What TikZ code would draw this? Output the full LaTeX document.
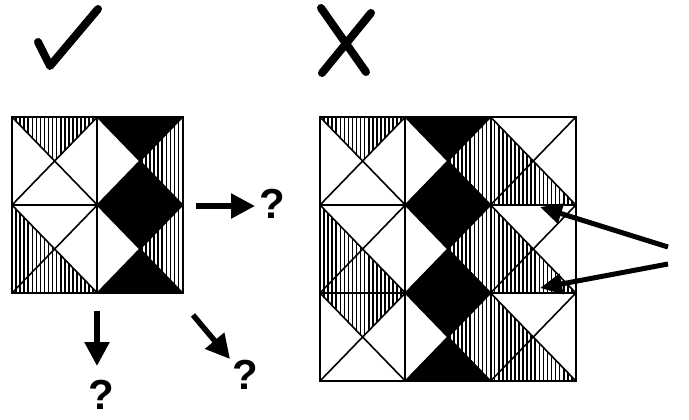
\documentclass[tikz,border=0pt]{standalone}
\usepackage{fontspec}
\setmainfont{Liberation Sans}
\usetikzlibrary{arrows.meta}
\tikzset{
  hline/.style={line width=1.6pt},
  qmark/.style={font=\bfseries\fontsize{42}{42}\selectfont,inner sep=0pt},
  bigarrow/.style={line width=5.5pt,-{Triangle[length=24pt,width=24pt]}},
  thinarrow/.style={line width=5pt,-{Triangle[length=22pt,width=20pt]}},
  stroke/.style={line width=8pt,line cap=round,line join=round},
  diag/.style={line width=1.6pt},
  border/.style={line width=2pt}
}
\def\tw{85.3}
\def\th{88}
% triangle fillers
\newcommand\Wt[3]{}
\newcommand\Bk[3]{\fill[black] #1 -- #2 -- #3 -- cycle;}
\newcommand\Ht[3]{%
  \begin{scope}
    \clip #1 -- #2 -- #3 -- cycle;
    \foreach \k in {1,...,20}
      \draw[hline] ({\tx+\k*\tw/21},\ty) -- ++(0,\th);
  \end{scope}}
% #1 x, #2 y (top-left), #3 top, #4 right, #5 bottom, #6 left
\newcommand\ptile[6]{%
  \def\tx{#1}\def\ty{#2}%
  #3{(#1,#2)}{({#1+\tw},#2)}{({#1+\tw/2},{#2+\th/2})}
  #4{({#1+\tw},#2)}{({#1+\tw},{#2+\th})}{({#1+\tw/2},{#2+\th/2})}
  #5{(#1,{#2+\th})}{({#1+\tw},{#2+\th})}{({#1+\tw/2},{#2+\th/2})}
  #6{(#1,#2)}{(#1,{#2+\th})}{({#1+\tw/2},{#2+\th/2})}
  \draw[diag] (#1,#2) -- ({#1+\tw},{#2+\th});
  \draw[diag] (#1,{#2+\th}) -- ({#1+\tw},#2);
  \draw[border] (#1,#2) rectangle ({#1+\tw},{#2+\th});
}
\newcommand\tA[2]{\ptile{#1}{#2}{\Ht}{\Wt}{\Wt}{\Wt}}
\newcommand\tB[2]{\ptile{#1}{#2}{\Bk}{\Ht}{\Bk}{\Wt}}
\newcommand\tC[2]{\ptile{#1}{#2}{\Wt}{\Wt}{\Ht}{\Ht}}
\begin{document}
\begin{tikzpicture}[x=1pt,y=-1pt]
\useasboundingbox[fill=white] (0,0) rectangle (689,420);
% check mark and cross
\draw[stroke] (38,42) -- (50,66) -- (98,9);
\draw[stroke] (321,8) -- (366,72);
\draw[stroke] (371,13) -- (322,73);
% left grid 2x2
\tA{12}{117}
\tB{97.3}{117}
\tC{12}{205}
\tB{97.3}{205}
% right grid 3x3
\tA{320}{117}
\tB{405.3}{117}
\tC{490.6}{117}
\tC{320}{205}
\tB{405.3}{205}
\tC{490.6}{205}
\tA{320}{293}
\tB{405.3}{293}
\tC{490.6}{293}
% question marks
\node[qmark] (qr) at (272,204) {?};
\node[qmark] (qd) at (101,395) {?};
\node[qmark] (qx) at (245,375) {?};
% arrows of the left picture
\coordinate (rs) at (196,206);
\coordinate (re) at (255,206);
\draw[bigarrow] (rs) -- (re);
\coordinate (ds) at (97,311);
\coordinate (de) at (97,366);
\draw[bigarrow] (ds) -- (de);
\coordinate (xs) at (193,315);
\coordinate (xe) at (230,359);
\draw[bigarrow] (xs) -- (xe);
% arrows pointing at the mismatches
\coordinate (p1) at (668,247);
\coordinate (t1) at (540,207);
\coordinate (p2) at (668,264);
\coordinate (t2) at (540,288);
\draw[thinarrow] (p1) -- (t1);
\draw[thinarrow] (p2) -- (t2);
\end{tikzpicture}
\end{document}
